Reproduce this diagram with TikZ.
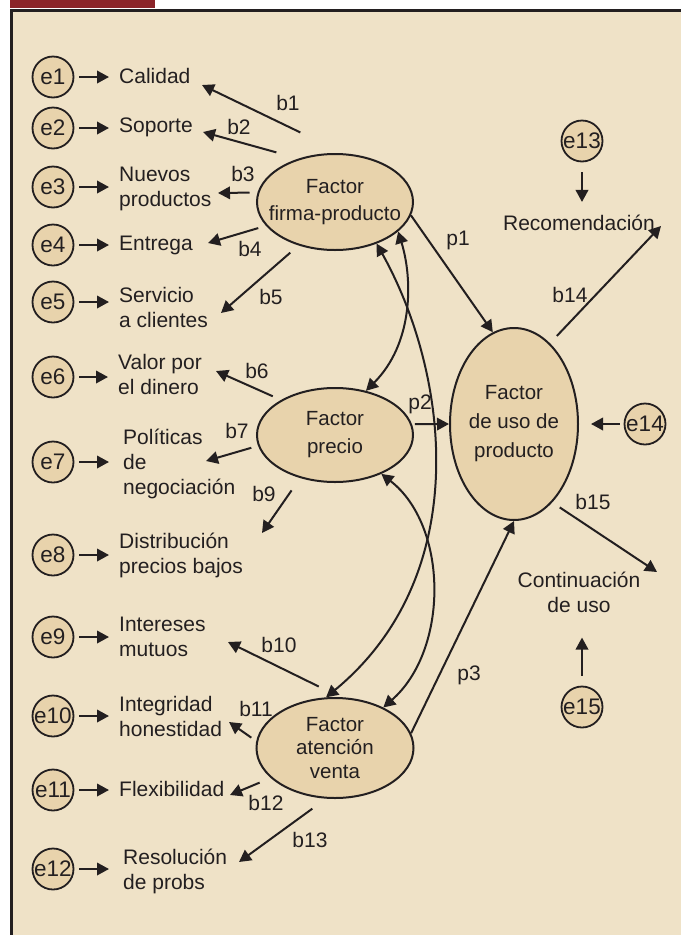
\documentclass[tikz,border=0pt]{standalone}
\usepackage{xcolor}
\usepackage{fontspec}
\setmainfont{Liberation Sans}
\usepackage{tikz}
\usetikzlibrary{arrows.meta, shapes.geometric}
\definecolor{ink}{RGB}{35,31,32}
\definecolor{pagebg}{RGB}{239,226,199}
\definecolor{latfill}{RGB}{232,211,172}
\definecolor{tabred}{RGB}{139,36,41}
\newcommand\lblfont{\fontsize{21}{25}\selectfont}

\tikzset{
  err/.style={circle, draw=ink, line width=1.8pt, fill=latfill, minimum size=41pt,
              inner sep=0pt, font=\fontsize{22.5}{25}\selectfont},
  lat/.style={ellipse, draw=ink, line width=2pt, fill=latfill, inner sep=-20pt, align=center},
  obs/.style={anchor=west, inner sep=0pt, align=left, font=\lblfont},
  coef/.style={inner sep=0pt, font=\lblfont},
  arr/.style={draw=ink, line width=2pt, -{Triangle[length=12pt,width=12.5pt]}},
  cov/.style={draw=ink, line width=2pt, {Triangle[length=12pt,width=12.5pt]}-{Triangle[length=12pt,width=12.5pt]}}
}

\begin{document}
\begin{tikzpicture}[x=1pt, y=-1pt, color=ink]
    \useasboundingbox (0,0) rectangle (681,935);
    % frame
    \fill[tabred] (10,0) rectangle (155,8);
    \fill[pagebg] (11.5,10) rectangle (681,935);
    \draw[line width=3pt] (11.5,935) -- (11.5,10) -- (681,10);

    % latent factors
    \node[lat, minimum width=156pt, minimum height=96pt, font=\fontsize{20.5}{27}\selectfont]
      (firma) at (335,202) {Factor\\firma-producto};
    \node[lat, minimum width=156pt, minimum height=94pt, font=\fontsize{20.5}{28}\selectfont]
      (precio) at (335,435) {Factor\\precio};
    \node[lat, minimum width=157pt, minimum height=100pt, font=\fontsize{20.5}{23.5}\selectfont]
      (atencion) at (335,748) {Factor\\atención\\venta};
    \node[lat, minimum width=128pt, minimum height=192pt, font=\fontsize{20.5}{29}\selectfont]
      (uso) at (514,424) {Factor\\de uso de\\producto};

    % error terms
    \node[err] (e1) at (53,77) {e1};
    \node[err] (e2) at (53,128) {e2};
    \node[err] (e3) at (53,187) {e3};
    \node[err] (e4) at (53,245) {e4};
    \node[err] (e5) at (53,302) {e5};
    \node[err] (e6) at (53,377) {e6};
    \node[err] (e7) at (53,462) {e7};
    \node[err] (e8) at (53,555) {e8};
    \node[err] (e9) at (53,637) {e9};
    \node[err] (e10) at (53,716) {e10};
    \node[err] (e11) at (53,790) {e11};
    \node[err] (e12) at (53,869) {e12};
    \node[err] (e13) at (582,141) {e13};
    \node[err] (e14) at (645,424) {e14};
    \node[err] (e15) at (582,707) {e15};

    % observed items
    \node[obs] (o1) at (119,76) {Calidad};
    \node[obs] (o2) at (119,127) {Soporte};
    \node[obs] (o3) at (119,189) {Nuevos\\productos};
    \node[obs] (o4) at (119,245) {Entrega};
    \node[obs] (o5) at (119,307) {Servicio\\a clientes};
    \node[obs] (o6) at (118,374) {Valor por\\el dinero};
    \node[obs] (o7) at (123,464) {Políticas\\de\\negociación};
    \node[obs] (o8) at (119,555) {Distribución\\precios bajos};
    \node[obs] (o9) at (119,637) {Intereses\\mutuos};
    \node[obs] (o10) at (119,716) {Integridad\\honestidad};
    \node[obs] (o11) at (119,789) {Flexibilidad};
    \node[obs] (o12) at (123,871) {Resolución\\de probs};
    \node[coef] (recom) at (579,223) {Recomendación};
    \node[coef, align=center] (cont) at (579,592) {Continuación\\de uso};

    % error arrows
    \foreach \i in {1,...,6,8,9,10,11}
      \draw[arr, shorten <=5pt, shorten >=10pt] (e\i.east) -- (e\i.east -| o\i.west);
    \foreach \i in {7,12}
      \draw[arr, shorten <=5pt, shorten >=14pt] (e\i.east) -- (e\i.east -| o\i.west);
    \draw[arr, shorten <=10pt, shorten >=13pt] (e13.south) -- (e13.south |- recom.north);
    \draw[arr, shorten <=4pt, shorten >=12pt] (e14.west) -- (uso.east);
    \draw[arr, shorten <=10pt, shorten >=25pt] (e15.north) -- (e15.north |- cont.south);

    % loadings (free ends)
    \coordinate (tb1) at (202,85);
    \coordinate (tb2) at (203,132);
    \coordinate (tb3) at (218,193);
    \coordinate (tb4) at (208,243);
    \coordinate (tb5) at (221,313);
    \coordinate (tb6) at (216,371);
    \coordinate (tb7) at (206,461);
    \coordinate (tb9) at (262,533);
    \coordinate (tb10) at (228,642);
    \coordinate (tb11) at (229,722);
    \coordinate (tb12) at (230,795);
    \coordinate (tb13) at (239,862);
    \coordinate (tb14) at (661,226);
    \coordinate (tb15) at (657,572);
    \draw[arr, shorten <=48pt] (firma.80) -- (tb1);
    \draw[arr, shorten <=23pt] (firma.130) -- (tb2);
    \draw[arr, shorten <=8pt] (firma.173) -- (tb3);
    \draw[arr, shorten <=8pt] (firma.199) -- (tb4);
    \draw[arr, shorten <=11pt] (firma.230) -- (tb5);
    \draw[arr, shorten <=9pt] (precio.147) -- (tb6);
    \draw[arr, shorten <=7pt] (precio.188) -- (tb7);
    \draw[arr, shorten <=15pt] (precio.231) -- (tb9);
    \draw[arr, shorten <=24pt] (atencion.84) -- (tb10);
    \draw[arr, shorten <=6pt] (atencion.175) -- (tb11);
    \draw[arr, shorten <=12pt] (atencion.205) -- (tb12);
    \draw[arr, shorten <=17pt] (atencion.260) -- (tb13);
    \draw[arr, shorten <=10pt] (uso.66) -- (tb14);
    \draw[arr, shorten <=9pt] (uso.296) -- (tb15);

    % structural paths
    \draw[arr] (firma.350) -- (uso.103);
    \draw[arr, shorten <=3pt] (precio.8) -- (uso.west);
    \draw[arr] (atencion.11) -- (uso.south);

    % covariances
    \draw[cov] (firma.335) .. controls +(15,49) and +(47,-47) .. (precio.55);
    \draw[cov] (firma.315) .. controls +(72,129) and +(149,-123) .. (atencion.100);
    \draw[cov] (precio.320) .. controls +(67,52) and +(66,-58) .. (atencion.40);

    % coefficient labels
    \node[coef] (lb1) at (288,103) {b1};
    \node[coef] (lb2) at (239,127) {b2};
    \node[coef] (lb3) at (243,174) {b3};
    \node[coef] (lb4) at (250,249) {b4};
    \node[coef] (lb5) at (271,297) {b5};
    \node[coef] (lb6) at (257,371) {b6};
    \node[coef] (lb7) at (237,431) {b7};
    \node[coef] (lb9) at (264,494) {b9};
    \node[coef] (lb10) at (279,645) {b10};
    \node[coef] (lb11) at (256,709) {b11};
    \node[coef] (lb12) at (266,803) {b12};
    \node[coef] (lb13) at (310,840) {b13};
    \node[coef] (lb14) at (570,295) {b14};
    \node[coef] (lb15) at (593,502) {b15};
    \node[coef] (lp1) at (458,240) {p1};
    \node[coef] (lp2) at (420,404) {p2};
    \node[coef] (lp3) at (469,675) {p3};
\end{tikzpicture}
\end{document}
